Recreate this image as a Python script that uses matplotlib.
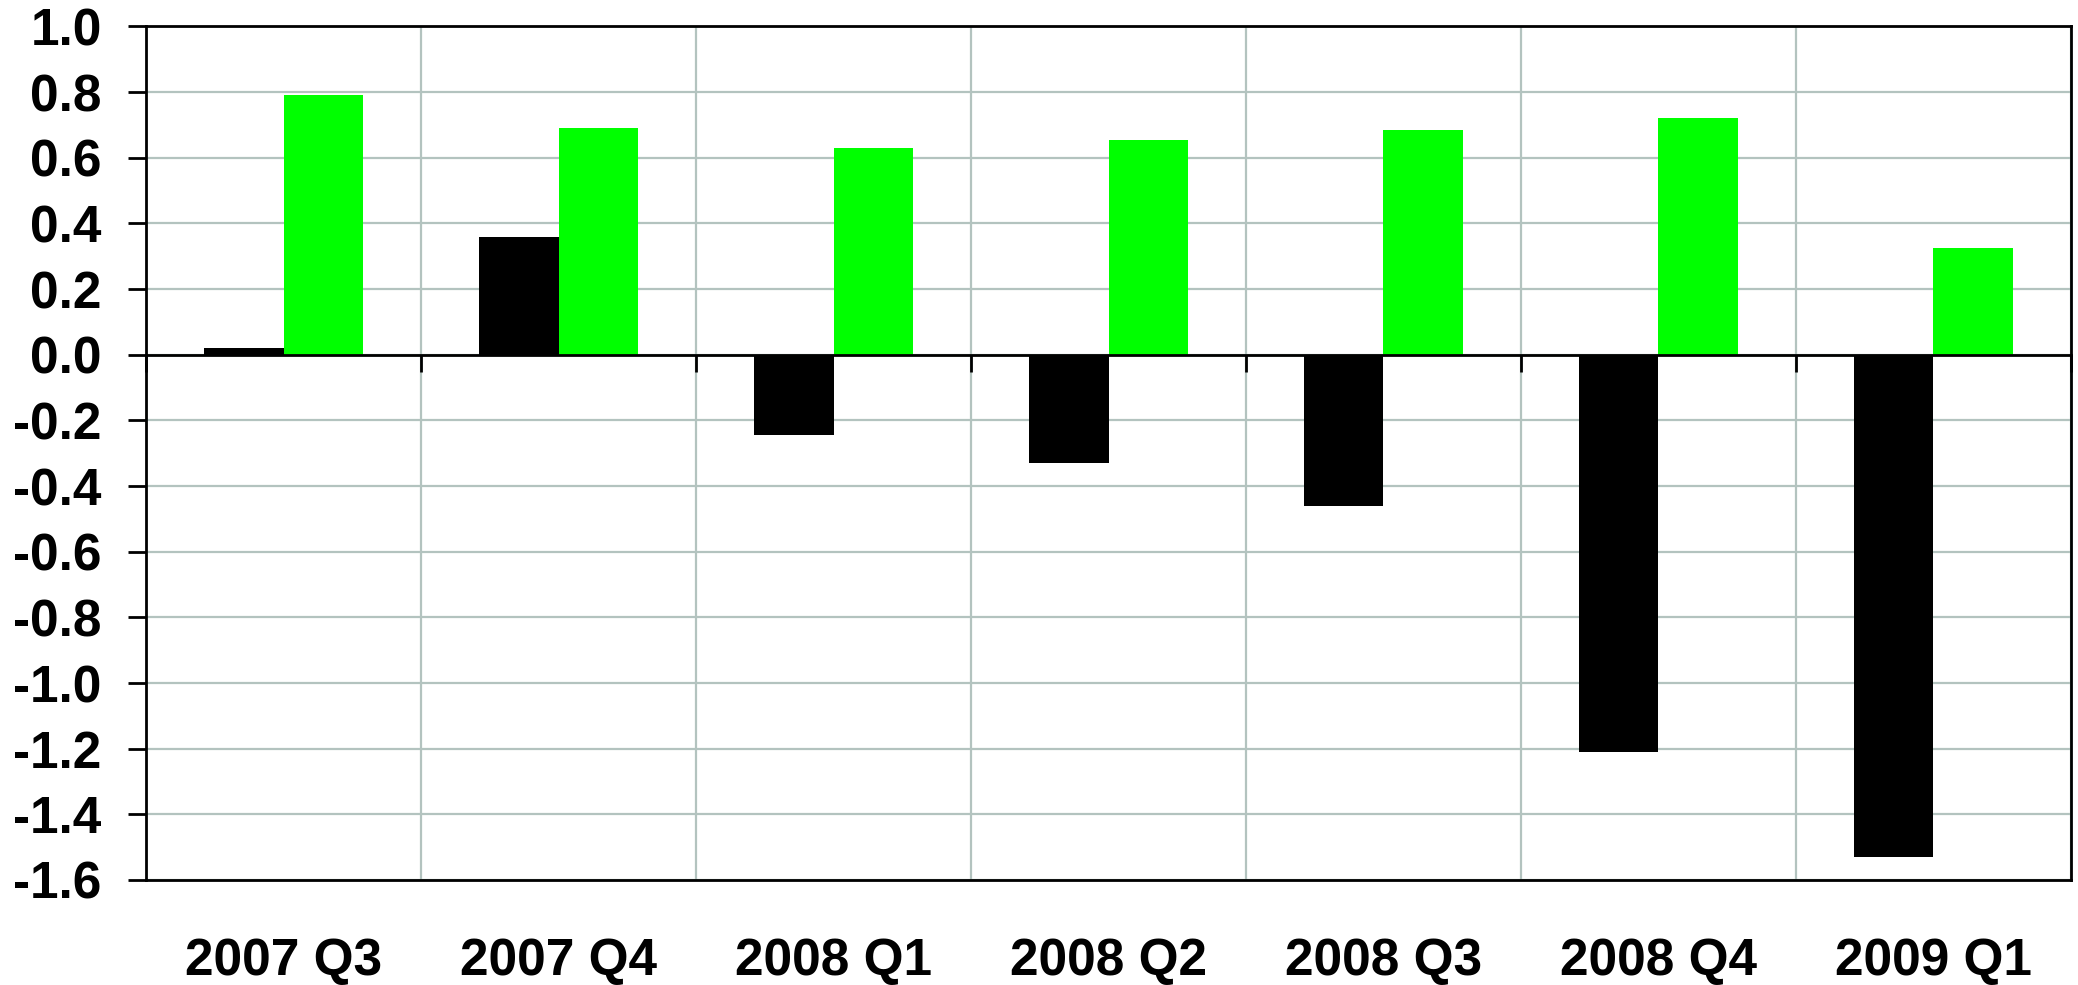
import matplotlib.pyplot as plt
import matplotlib.ticker as mticker
import numpy as np

quarters = ["2007 Q3", "2007 Q4", "2008 Q1", "2008 Q2", "2008 Q3", "2008 Q4", "2009 Q1"]
black_vals = [0.02, 0.36, -0.245, -0.33, -0.46, -1.21, -1.53]
green_vals = [0.79, 0.69, 0.63, 0.655, 0.685, 0.72, 0.325]

plt.rcParams['font.family'] = ['Liberation Sans', 'DejaVu Sans']
plt.rcParams['font.weight'] = 'bold'
plt.rcParams['axes.unicode_minus'] = False

GRID = '#b3c3bf'
FS = 37

fig = plt.figure(figsize=(20.78, 9.85), dpi=100)
ax = fig.add_axes([0.0703, 0.1066, 0.9263, 0.8665])

x = np.arange(len(quarters))
w = 0.29
ax.bar(x - w / 2, black_vals, w, color='black', zorder=3)
ax.bar(x + w / 2, green_vals, w, color='#00ff00', zorder=3)

ax.set_xlim(-0.5, len(quarters) - 0.5)
ax.set_ylim(-1.6, 1.0)
ax.yaxis.set_major_locator(mticker.MultipleLocator(0.2))
ax.yaxis.set_major_formatter(mticker.FormatStrFormatter('%.1f'))

ax.set_xticks(x)
ax.set_xticklabels(quarters)
ax.set_xticks(np.arange(len(quarters) + 1) - 0.5, minor=True)
ax.tick_params(axis='x', which='major', length=0, pad=41, labelsize=FS)
ax.tick_params(axis='x', which='minor', length=0)
ax.tick_params(axis='y', which='major', direction='out', length=13, width=2,
               pad=19, labelsize=FS)

ax.grid(axis='y', which='major', color=GRID, linewidth=1.6, zorder=0)
ax.grid(axis='x', which='minor', color=GRID, linewidth=1.6, zorder=0)
ax.set_axisbelow(True)

for s in ax.spines.values():
    s.set_linewidth(2)
    s.set_color('black')

# zero line with tick marks at category boundaries
zero_frac = (0 - (-1.6)) / (1.0 - (-1.6))
sec = ax.secondary_xaxis(zero_frac)
sec.set_alignment('bottom')
sec.set_xticks(np.arange(len(quarters) + 1) - 0.5)
sec.tick_params(axis='x', which='major', direction='out', length=12, width=2,
                color='black', labelbottom=False, labeltop=False)
sec.spines['bottom'].set_linewidth(2)
sec.spines['bottom'].set_color('black')
sec.set_zorder(5)

fig.savefig('out.png', dpi=100, facecolor='white')
